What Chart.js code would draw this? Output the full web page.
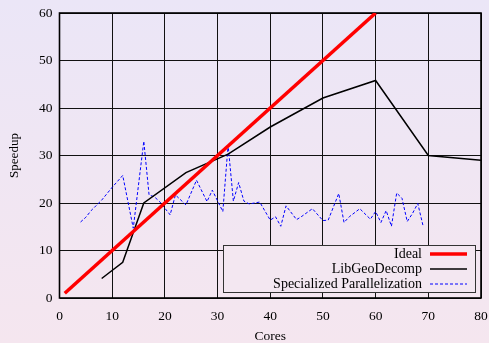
<!DOCTYPE html>
<html>
<head>
<meta charset="utf-8">
<script src="https://cdn.jsdelivr.net/npm/chart.js@4"></script>
<style>
  html, body { margin: 0; padding: 0; }
  body {
    width: 489px; height: 343px; overflow: hidden;
    background: linear-gradient(to bottom, #ebe6f7 0%, #f5e6ef 100%);
  }
  canvas { display: block; }
</style>
</head>
<body>
<canvas id="chart" width="489" height="343"></canvas>
<script>
"use strict";

const idealCores = [1, 60];
const idealSpeedup = [1, 60];

const libCores = [8, 12, 16, 24, 32, 40, 50, 60, 70, 80];
const libSpeedup = [4.1, 7.5, 20, 26.4, 30.3, 36, 42.1, 45.8, 30, 29];

const specCores = [4, 5, 6, 8, 10, 12, 14, 16, 17, 18, 19, 21, 22, 24, 26, 28, 29, 31, 32, 33, 34, 35, 36, 38, 40, 41, 42, 43, 45, 46, 48, 50, 51, 53, 54, 55, 57, 59, 60, 61, 62, 63, 64, 65, 66, 67, 68, 69];
const specSpeedup = [16, 17, 18.4, 20.6, 23.3, 25.8, 14.7, 33, 21.7, 21.3, 20.3, 17.5, 21.7, 19.6, 24.8, 20.3, 22.7, 18.2, 32.2, 20.4, 24.3, 20.4, 19.8, 20.2, 16.4, 17.1, 15.1, 19.4, 16.5, 17.2, 18.8, 16.3, 16.4, 22, 15.9, 17.1, 18.8, 16.6, 18.2, 15.9, 18.4, 15.1, 22.1, 21, 16.1, 17.8, 19.9, 15.2];

const xTicks = { min: 0, max: 80, step: 10 };
const yTicks = { min: 0, max: 60, step: 10 };

const FONT = "'Liberation Serif', 'DejaVu Serif', serif";

function pairs(xs, ys) {
  return xs.map((x, i) => ({ x: x, y: ys[i] }));
}

// legend in a box, text on the left, line sample on the right
const boxLegend = {
  id: "boxLegend",
  afterDraw(chart) {
    const ctx = chart.ctx;
    const area = chart.chartArea;
    const w = 252, h = 47;
    const x0 = area.right - 6 - w;
    const y0 = area.bottom - 6 - h;
    ctx.save();
    ctx.fillStyle = "rgb(243,231,241)";
    ctx.fillRect(x0, y0, w, h);
    ctx.strokeStyle = "#333";
    ctx.lineWidth = 1;
    ctx.strokeRect(x0 + 0.5, y0 + 0.5, w, h);
    ctx.font = "14px " + FONT;
    ctx.textAlign = "right";
    ctx.textBaseline = "middle";
    chart.data.datasets.forEach((ds, i) => {
      const cy = y0 + 9 + i * 15;
      ctx.fillStyle = "#000";
      ctx.fillText(ds.label, x0 + 199, cy);
      ctx.beginPath();
      ctx.strokeStyle = ds.borderColor;
      ctx.lineWidth = ds.borderWidth;
      ctx.setLineDash(ds.borderDash || []);
      ctx.moveTo(x0 + 207, cy);
      ctx.lineTo(x0 + 244, cy);
      ctx.stroke();
    });
    ctx.restore();
  },
};

// frame around the plot area
const frame = {
  id: "frame",
  beforeDatasetsDraw(chart) {
    const ctx = chart.ctx;
    const a = chart.chartArea;
    ctx.save();
    ctx.strokeStyle = "#000";
    ctx.lineWidth = 1.6;
    ctx.strokeRect(a.left, a.top, a.right - a.left, a.bottom - a.top);
    ctx.restore();
  },
};

const ctx = document.getElementById("chart").getContext("2d");
const chart = new Chart(ctx, {
  type: "line",
  data: {
    datasets: [
      {
        label: "Ideal",
        data: pairs(idealCores, idealSpeedup),
        borderColor: "#ff0000",
        borderWidth: 3.5,
        pointRadius: 0,
        fill: false,
      },
      {
        label: "LibGeoDecomp",
        data: pairs(libCores, libSpeedup),
        borderColor: "#000000",
        borderWidth: 1.5,
        pointRadius: 0,
        fill: false,
      },
      {
        label: "Specialized Parallelization",
        data: pairs(specCores, specSpeedup),
        borderColor: "#0000ff",
        borderWidth: 1,
        borderDash: [3, 2],
        pointRadius: 0,
        fill: false,
      },
    ],
  },
  options: {
    responsive: false,
    animation: false,
    devicePixelRatio: 1,
    layout: { padding: { top: 13, right: 8, left: 0, bottom: 0 } },
    plugins: {
      legend: { display: false },
      tooltip: { enabled: false },
    },
    scales: {
      x: {
        type: "linear",
        min: xTicks.min,
        max: xTicks.max,
        ticks: { stepSize: xTicks.step, color: "#000", font: { family: FONT, size: 13.5 }, padding: 10, maxRotation: 0 },
        grid: { color: "#111", lineWidth: 1, drawTicks: false },
        border: { display: false },
        title: { display: true, text: "Cores", color: "#000", font: { family: FONT, size: 13.5 }, padding: { top: 4, bottom: -2 } },
        afterFit(scale) {
          scale.height = 45;
          scale.paddingLeft = 0;
          scale.paddingRight = 0;
        },
      },
      y: {
        type: "linear",
        min: yTicks.min,
        max: yTicks.max,
        ticks: { stepSize: yTicks.step, color: "#000", font: { family: FONT, size: 13.5 }, padding: 7 },
        grid: { color: "#111", lineWidth: 1, drawTicks: false },
        border: { display: false },
        title: { display: true, text: "Speedup", color: "#000", font: { family: FONT, size: 13 }, padding: { top: 7, bottom: 0 } },
        afterFit(scale) {
          scale.width = 59.5;
          scale.paddingTop = 0;
          scale.paddingBottom = 0;
        },
      },
    },
  },
  plugins: [frame, boxLegend],
});
</script>
</body>
</html>
